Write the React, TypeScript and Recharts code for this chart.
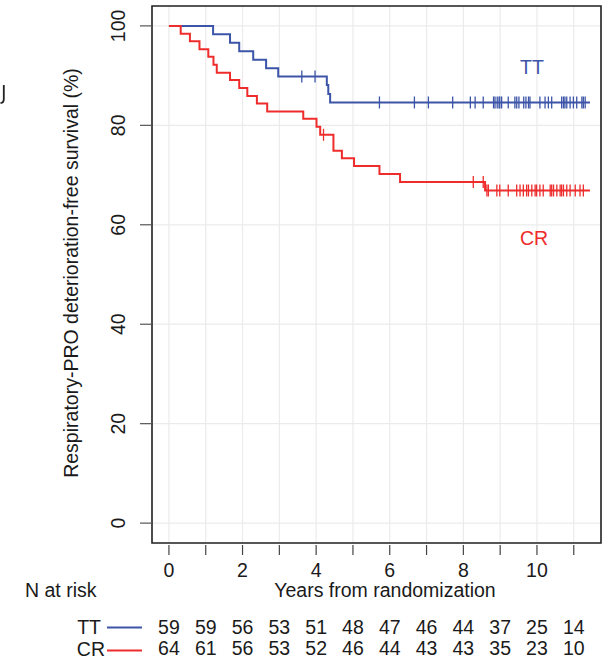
import { ComposedChart, Line, Scatter, XAxis, YAxis, CartesianGrid, ReferenceArea } from 'recharts'

const FONT = '"Liberation Sans", Arial, Helvetica, sans-serif'
const FS = 19.5
const BLUE = '#3d55a8'
const RED = '#ee2c2c'
const INK = '#1a1a1a'

// x axis ticks (years) and their labels
const xTicks = [0, 1, 2, 3, 4, 5, 6, 7, 8, 9, 10, 11]
const xTickLabels = ['0', '', '2', '', '4', '', '6', '', '8', '', '10', '']
const yTicks = [0, 20, 40, 60, 80, 100]

// numbers at risk at each year
const ttAtRisk = [59, 59, 56, 53, 51, 48, 47, 46, 44, 37, 25, 14]
const crAtRisk = [64, 61, 56, 53, 52, 46, 44, 43, 43, 35, 23, 10]

// TT: step times and survival (%) after each step, last point = end of follow-up
const ttTimes = [0, 1.2, 1.66, 1.91, 2.29, 2.64, 2.97, 4.29, 4.33, 4.38, 11.44]
const ttSurv = [100, 98.3, 96.6, 94.9, 93.2, 91.5, 89.8, 88.1, 86.3, 84.6, 84.6]
const ttCensored = [
  3.61, 3.97, 5.72, 6.67, 7.05, 7.71, 8.19, 8.32, 8.54, 8.82, 8.86, 8.92, 8.97, 8.99, 9.04, 9.22, 9.4, 9.45,
  9.51, 9.64, 9.7, 9.77, 9.81, 10.08, 10.22, 10.31, 10.4, 10.67, 10.72, 10.76, 10.81, 10.9, 10.99, 11.08,
  11.22, 11.26, 11.31,
]

// CR
const crTimes = [
  0, 0.32, 0.57, 0.83, 1.07, 1.21, 1.3, 1.66, 1.91, 2.13, 2.39, 2.67, 3.65, 4.01, 4.11, 4.47, 4.7, 5.03, 5.72,
  6.28, 8.59, 11.44,
]
const crSurv = [
  100, 98.4, 96.9, 95.3, 93.8, 92.2, 90.6, 89.1, 87.5, 85.9, 84.4, 82.8, 81.3, 79.7, 78.1, 74.9, 73.4, 71.8,
  70.2, 68.6, 66.9, 66.9,
]
const crCensored = [
  4.2, 8.27, 8.54, 8.64, 8.68, 8.91, 8.99, 9.22, 9.45, 9.54, 9.63, 9.72, 9.77, 9.86, 9.95, 9.99, 10.08, 10.17,
  10.36, 10.4, 10.45, 10.54, 10.63, 10.67, 10.72, 10.81, 10.9, 11.04, 11.17, 11.26,
]

const stepValue = (times: number[], surv: number[], t: number) => {
  let v = surv[0]
  for (let i = 0; i < times.length; i++) if (times[i] <= t) v = surv[i]
  return v
}

const ttLine = ttTimes.map((t, i) => ({ t, s: ttSurv[i] }))
const crLine = crTimes.map((t, i) => ({ t, s: crSurv[i] }))
const ttMarks = ttCensored.map((t) => ({ t, s: stepValue(ttTimes, ttSurv, t) }))
const crMarks = crCensored.map((t) => ({ t, s: stepValue(crTimes, crSurv, t) }))

const censorShape = (color: string) => (p: any) =>
  <line x1={p.cx} x2={p.cx} y1={p.cy - 6} y2={p.cy + 6} stroke={color} strokeWidth={1.3} />

function XTick(props: any) {
  const { x, y, payload } = props
  const i = xTicks.indexOf(payload.value)
  return (
    <g fontFamily={FONT} fontSize={FS} fill={INK} textAnchor="middle">
      <line x1={x} x2={x} y1={y + 2} y2={y + 12} stroke="#444" strokeWidth={1.2} />
      <text x={x} y={y + 34}>{xTickLabels[i]}</text>
      <text x={x} y={y + 91}>{ttAtRisk[i]}</text>
      <text x={x} y={y + 112}>{crAtRisk[i]}</text>
    </g>
  )
}

function YTick(props: any) {
  const { x, y, payload } = props
  return (
    <g fontFamily={FONT} fontSize={FS} fill={INK}>
      <line x1={x - 12} x2={x} y1={y} y2={y} stroke="#555" strokeWidth={1.2} />
      <text x={125} y={y} textAnchor="middle" transform={`rotate(-90 125 ${y})`}>
        {payload.value}
      </text>
    </g>
  )
}

export default function App() {
  return (
    <div style={{ position: 'absolute', left: 0, top: 0, width: 615, height: 659, background: '#fff' }}>
      <ComposedChart width={615} height={659} margin={{ top: 6, right: 14, bottom: 6, left: 0 }}>
        <CartesianGrid stroke="#ebebeb" strokeWidth={1.2} />
        <XAxis
          type="number"
          dataKey="t"
          domain={[-0.46, 11.74]}
          ticks={xTicks}
          interval={0}
          allowDataOverflow
          axisLine={false}
          tickLine={false}
          tickSize={0}
          tickMargin={0}
          height={110}
          tick={(p: any) => <XTick {...p} />}
        />
        <YAxis
          type="number"
          dataKey="s"
          domain={[-4, 104]}
          ticks={yTicks}
          interval={0}
          allowDataOverflow
          axisLine={false}
          tickLine={false}
          tickSize={0}
          tickMargin={0}
          width={152}
          tick={(p: any) => <YTick {...p} />}
        />
        <Line data={ttLine} dataKey="s" type="stepAfter" stroke={BLUE} strokeWidth={2} dot={false} isAnimationActive={false} />
        <Line data={crLine} dataKey="s" type="stepAfter" stroke={RED} strokeWidth={2} dot={false} isAnimationActive={false} />
        <Scatter data={ttMarks} dataKey="s" shape={censorShape(BLUE)} isAnimationActive={false} />
        <Scatter data={crMarks} dataKey="s" shape={censorShape(RED)} isAnimationActive={false} />
        <ReferenceArea x1={-0.46} x2={11.74} y1={-4} y2={104} fill="none" stroke="#222" strokeWidth={1.6} ifOverflow="visible" />
      </ComposedChart>
      <svg
        width={615}
        height={659}
        style={{ position: 'absolute', left: 0, top: 0, pointerEvents: 'none' }}
        fontFamily={FONT}
        fontSize={FS}
        fill={INK}
      >
        {/* stray cropped glyph at the left edge */}
        <path d="M3.8 85 V99 Q3.8 103 0.5 103" fill="none" stroke="#222" strokeWidth={1.8} />
        <text x={78} y={273} textAnchor="middle" transform="rotate(-90 78 273)">
          Respiratory-PRO deterioration-free survival (%)
        </text>
        <text x={25} y={597}>N at risk</text>
        <text x={385} y={597} textAnchor="middle">Years from randomization</text>
        <text x={101} y={634} textAnchor="end">TT</text>
        <line x1={107} x2={142} y1={627.5} y2={627.5} stroke={BLUE} strokeWidth={2} />
        <text x={105} y={656} textAnchor="end">CR</text>
        <line x1={107} x2={142} y1={650.5} y2={650.5} stroke={RED} strokeWidth={2} />
        <text x={532} y={74} textAnchor="middle" fill={BLUE}>TT</text>
        <text x={534} y={245} textAnchor="middle" fill={RED}>CR</text>
      </svg>
    </div>
  )
}
